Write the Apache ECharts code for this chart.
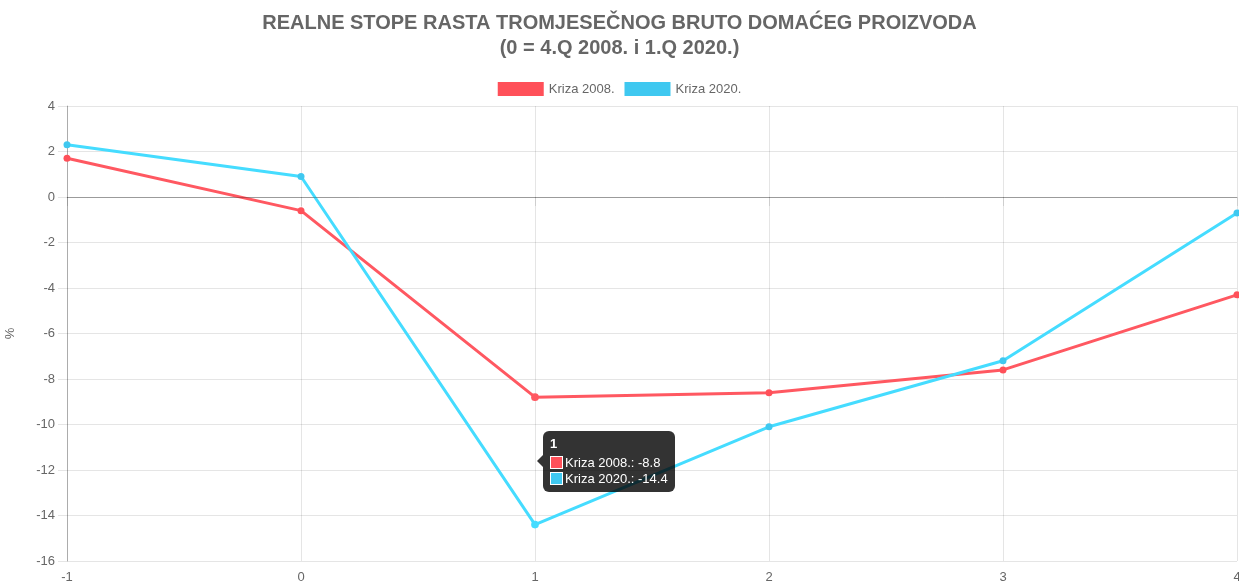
<!DOCTYPE html>
<html>
<head>
<meta charset="utf-8">
<script src="https://cdn.jsdelivr.net/npm/echarts@6/dist/echarts.min.js"></script>
<style>
  html, body { margin: 0; padding: 0; background: #fff; }
  #main { width: 1239px; height: 583px; }
</style>
</head>
<body>
<div id="main"></div>
<script>
var categories = ['-1', '0', '1', '2', '3', '4'];
var kriza2008 = [1.7, -0.6, -8.8, -8.6, -7.6, -4.3];
var kriza2020 = [2.3, 0.9, -14.4, -10.1, -7.2, -0.7];
var seriesNames = ['Kriza 2008.', 'Kriza 2020.'];
var colors = ['#ff5059', '#3fc8f0'];
var yTicks = { min: -16, max: 4, interval: 2 };
var tipIndex = 2;

var myChart = echarts.init(document.getElementById('main'), null, { renderer: 'canvas' });
var gridColor = 'rgba(0,0,0,0.1)';
var font = 'Liberation Sans, Arial, sans-serif';

var option = {
    animation: false,
    textStyle: { fontFamily: font },
    title: {
        text: 'REALNE STOPE RASTA TROMJESEČNOG BRUTO DOMAĆEG PROIZVODA\n(0 = 4.Q 2008. i 1.Q 2020.)',
        left: 'center',
        top: 6,
        textStyle: { fontSize: 20, fontWeight: 'bold', color: '#666', lineHeight: 25, fontFamily: font }
    },
    legend: {
        top: 77,
        left: 'center',
        icon: 'rect',
        itemWidth: 46,
        itemHeight: 14,
        itemGap: 10,
        textStyle: { fontSize: 13, color: '#666', fontFamily: font },
        data: seriesNames
    },
    grid: { left: 67, right: 2, top: 106, bottom: 22, containLabel: false, outerBoundsMode: 'none' },
    tooltip: {
        trigger: 'axis',
        alwaysShowContent: true,
        triggerOn: 'none',
        axisPointer: { type: 'none' },
        backgroundColor: 'rgba(0,0,0,0.8)',
        borderWidth: 0,
        padding: [5, 7],
        extraCssText: 'box-shadow:none;border-radius:6px;',
        textStyle: { color: '#fff', fontSize: 13, fontFamily: font },
        position: function () {
            var x = myChart.convertToPixel({ xAxisIndex: 0 }, categories[tipIndex]);
            var y1 = myChart.convertToPixel({ yAxisIndex: 0 }, kriza2008[tipIndex]);
            var y2 = myChart.convertToPixel({ yAxisIndex: 0 }, kriza2020[tipIndex]);
            return [x + 8, (y1 + y2) / 2 - 30];
        },
        formatter: function (params) {
            var s = '<div style="position:absolute;left:-6px;top:24px;width:0;height:0;border-top:6px solid transparent;border-bottom:6px solid transparent;border-right:6px solid rgba(0,0,0,0.8);"></div>';
            s += '<div style="font-weight:bold;line-height:16px;margin-bottom:3px;">' + params[0].axisValue + '</div>';
            params.forEach(function (p) {
                s += '<div style="line-height:16px;white-space:nowrap;"><span style="display:inline-block;width:11px;height:11px;background:' + p.color +
                    ';border:1px solid #fff;vertical-align:-2px;margin-right:2px;"></span>' + p.seriesName + ': ' + p.value + '</div>';
            });
            return s;
        }
    },
    xAxis: {
        type: 'category',
        boundaryGap: false,
        data: categories,
        axisLine: { show: true, lineStyle: { color: gridColor } },
        axisTick: { show: true, length: 9, alignWithLabel: true, lineStyle: { color: gridColor } },
        axisLabel: { color: '#666', fontSize: 13, margin: 10, fontFamily: font },
        splitLine: { show: true, lineStyle: { color: gridColor } }
    },
    yAxis: {
        type: 'value',
        min: yTicks.min,
        max: yTicks.max,
        interval: yTicks.interval,
        name: '%',
        nameLocation: 'middle',
        nameGap: 50,
        nameTextStyle: { color: '#666', fontSize: 13, fontFamily: font },
        axisLine: { show: true, lineStyle: { color: 'rgba(0,0,0,0.25)' } },
        axisTick: { show: true, length: 9, lineStyle: { color: gridColor } },
        axisLabel: { color: '#666', fontSize: 13, margin: 12, fontFamily: font },
        splitLine: { show: true, lineStyle: { color: gridColor } }
    },
    series: [{
        name: seriesNames[0],
        type: 'line',
        data: kriza2008,
        symbol: 'circle',
        symbolSize: 7,
        showSymbol: true,
        lineStyle: { width: 3, color: colors[0] },
        itemStyle: { color: colors[0] },
        markLine: {
            silent: true,
            symbol: 'none',
            label: { show: false },
            lineStyle: { color: 'rgba(0,0,0,0.25)', width: 1, type: 'solid' },
            data: [{ yAxis: 0 }]
        },
        z: 2
    }, {
        name: seriesNames[1],
        type: 'line',
        data: kriza2020,
        symbol: 'circle',
        symbolSize: 7,
        showSymbol: true,
        lineStyle: { width: 3, color: colors[1] },
        itemStyle: { color: colors[1] },
        z: 3
    }]
};

myChart.setOption(option);
myChart.dispatchAction({ type: 'showTip', seriesIndex: 0, dataIndex: tipIndex });
window.addEventListener('resize', myChart.resize);
</script>
</body>
</html>
